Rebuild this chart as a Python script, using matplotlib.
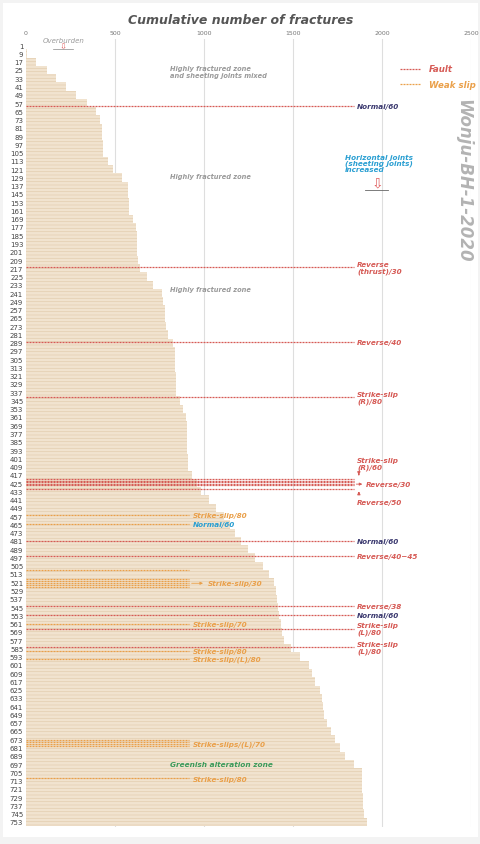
import matplotlib
matplotlib.use("Agg")
import matplotlib.pyplot as plt

plt.rcParams['font.family'] = ['DejaVu Sans']
plt.rcParams['hatch.linewidth'] = 0.5

# ---------------- data ----------------
depths = list(range(1, 754, 8))
cum_fractures = [0, 5, 55, 120, 170, 225, 280, 340, 395, 415,
                 425, 428, 430, 435, 460, 490, 540, 572, 575, 576,
                 578, 600, 620, 623, 625, 626, 628, 640, 680, 715,
                 765, 772, 780, 782, 785, 800, 826, 835, 838, 838,
                 840, 840, 842, 865, 882, 900, 903, 905, 906, 906,
                 908, 910, 932, 960, 985, 1030, 1070, 1110, 1145, 1175,
                 1210, 1245, 1285, 1330, 1365, 1395, 1405, 1410, 1415, 1420,
                 1430, 1440, 1450, 1490, 1540, 1590, 1605, 1625, 1650, 1665,
                 1670, 1672, 1690, 1715, 1735, 1765, 1790, 1845, 1885, 1888,
                 1890, 1892, 1895, 1900, 1915]

x_ticks = [0, 500, 1000, 1500, 2000, 2500]

# faults (red): depth, label, label colour key
fault_depths = [60, 216, 288, 342, 421, 422.5, 424, 425.5, 427, 431, 481, 496, 544, 553, 566, 584]
fault_labels = [("Normal/60", 60, "n"), ("Reverse\n(thrust)/30", 216, "r"),
                ("Reverse/40", 288, "r"), ("Strike-slip\n(R)/80", 342, "r"),
                ("Normal/60", 481, "n"), ("Reverse/40~45", 496, "r"),
                ("Reverse/38", 544, "r"), ("Normal/60", 553, "n"),
                ("Strike-slip\n(L)/80", 566, "r"), ("Strike-slip\n(L)/80", 584, "r")]

# weak slips (orange)
weak_depths = [456, 465, 509, 518, 520, 522, 524, 526, 561, 588, 595, 674, 676, 678, 680, 711]
weak_labels = [("Strike-slip/80", 456, "o"), ("Normal/60", 465, "c"),
               ("Strike-slip/70", 561, "o"), ("Strike-slip/80", 588, "o"),
               ("Strike-slip/(L)/80", 595, "o"), ("Strike-slips/(L)/70", 677, "o"),
               ("Strike-slip/80", 711, "o")]

fault_end = 1840
weak_end = 915

RED = '#d65a55'
ORANGE = '#eaa04a'
NAVY = '#3c3a70'
CYAN = '#2a9fd2'
GREEN = '#3a9a5a'
colmap = {"r": RED, "n": NAVY, "o": ORANGE, "c": CYAN}

# ---------------- figure ----------------
W, H = 481, 845
fig = plt.figure(figsize=(W / 100, H / 100), dpi=100)
fig.patch.set_facecolor('#f3f3f3')
fig.add_artist(plt.Rectangle((3 / W, 7 / H), 475 / W, 834 / H, transform=fig.transFigure,
                             facecolor='white', edgecolor='none', zorder=0))

ax = fig.add_axes([26 / W, 17 / H, 445 / W, 788 / H])
ax.set_facecolor('none')
ax.set_xlim(0, 2500)
ax.set_ylim(758, -5)

for s in ax.spines.values():
    s.set_visible(False)

for xv in x_ticks[1:]:
    ax.axvline(xv, color='#dedede', lw=0.8, zorder=0.5)

ax.barh(depths, cum_fractures, height=8, align='center', color='#f1e3cf',
        edgecolor='#e3ceb0', linewidth=0, hatch='-----', zorder=1)

ax.xaxis.tick_top()
ax.set_xticks(x_ticks)
ax.set_xticklabels([str(v) for v in x_ticks], fontsize=4.5, color='#777')
ax.set_yticks(depths)
ax.set_yticklabels([str(d) for d in depths], fontsize=5, color='#444')
ax.tick_params(length=0, pad=2)
ax.tick_params(axis='x', pad=3)

ls = (0, (1.6, 0.8))
for d in fault_depths:
    ax.plot([0, fault_end], [d, d], color=RED, lw=0.9, ls=ls, zorder=3)
for d in weak_depths:
    ax.plot([0, weak_end], [d, d], color=ORANGE, lw=0.9, ls=ls, zorder=3)

lab_kw = dict(fontsize=5.2, fontweight='bold', style='italic', va='center', ha='left',
              linespacing=1.05, zorder=4)
for txt, d, c in fault_labels:
    ax.text(fault_end + 20, d, txt, color=colmap[c], **lab_kw)
for txt, d, c in weak_labels:
    ax.text(weak_end + 20, d, txt, color=colmap[c], **lab_kw)

# cluster of faults near 425 m
ax.text(fault_end + 20, 406, "Strike-slip\n(R)/60", color=RED, **lab_kw)
ax.text(fault_end + 70, 426, "Reverse/30", color=RED, **lab_kw)
ax.text(fault_end + 20, 443, "Reverse/50", color=RED, **lab_kw)
ax.annotate("", xy=(fault_end + 30, 420), xytext=(fault_end + 30, 414),
            arrowprops=dict(arrowstyle='-|>', color=RED, lw=0.8, mutation_scale=4))
ax.annotate("", xy=(fault_end + 30, 433), xytext=(fault_end + 30, 438),
            arrowprops=dict(arrowstyle='-|>', color=RED, lw=0.8, mutation_scale=4))
ax.annotate("", xy=(fault_end + 65, 426), xytext=(fault_end, 426),
            arrowprops=dict(arrowstyle='-|>', color=RED, lw=0.6, mutation_scale=4))
# weak slip cluster near 521 m
ax.annotate("", xy=(weak_end + 95, 522), xytext=(weak_end, 522),
            arrowprops=dict(arrowstyle='-|>', color=ORANGE, lw=0.6, mutation_scale=4))
ax.text(weak_end + 105, 522, "Strike-slip/30", color=ORANGE, **lab_kw)

# zone notes
zone_kw = dict(fontsize=4.8, fontweight='bold', style='italic', color='#9a9a9a',
               ha='left', va='center', linespacing=1.15, zorder=4)
ax.text(810, 26.5, "Highly fractured zone\nand sheeting joints mixed", **zone_kw)
ax.text(810, 128, "Highly fractured zone", **zone_kw)
ax.text(810, 237, "Highly fractured zone", **zone_kw)
ax.text(810, 697, "Greenish alteration zone", fontsize=5.3, fontweight='bold', style='italic',
        color=GREEN, ha='left', va='center', zorder=4)

ax.text(1792, 115, "Horizontal joints\n(sheeting joints)\nincreased", fontsize=5.2,
        fontweight='bold', style='italic', color=CYAN, ha='left', va='center',
        linespacing=1.0, zorder=4)
ax.text(1972, 134, "\u21e9", fontsize=10, color='#e06060', ha='center', va='center', zorder=4)
ax.plot([1905, 2035], [141, 141], color='#666', lw=0.6, zorder=4)

# overburden
ax.text(210, -4.5, "Overburden", fontsize=5, style='italic', color='#9a9a9a',
        ha='center', va='center', clip_on=False)
ax.text(210, 1.5, "\u21e9", fontsize=6, color='#e06060', ha='center', va='center', clip_on=False)
ax.plot([150, 265], [5, 5], color='#888', lw=0.5, zorder=4)

# legend
ax.plot([2100, 2220], [24, 24], color=RED, lw=0.9, ls=ls)
ax.text(2265, 24, "Fault", fontsize=6.2, fontweight='bold', style='italic', color=RED,
        ha='left', va='center')
ax.plot([2100, 2220], [39, 39], color=ORANGE, lw=0.9, ls=ls)
ax.text(2265, 39, "Weak slip", fontsize=6.2, fontweight='bold', style='italic', color=ORANGE,
        ha='left', va='center')

# well name
fig.text(463 / W, 1 - 181 / H, "Wonju-BH-1-2020", rotation=-90, fontsize=12,
         fontweight='bold', style='italic', color='#b3b3b3', ha='center', va='center')

fig.text(0.5, 1 - 20 / H, "Cumulative number of fractures", fontsize=9,
         fontweight='bold', style='italic', color='#555555', ha='center', va='center')

fig.savefig("out.png", dpi=100, facecolor=fig.get_facecolor())
